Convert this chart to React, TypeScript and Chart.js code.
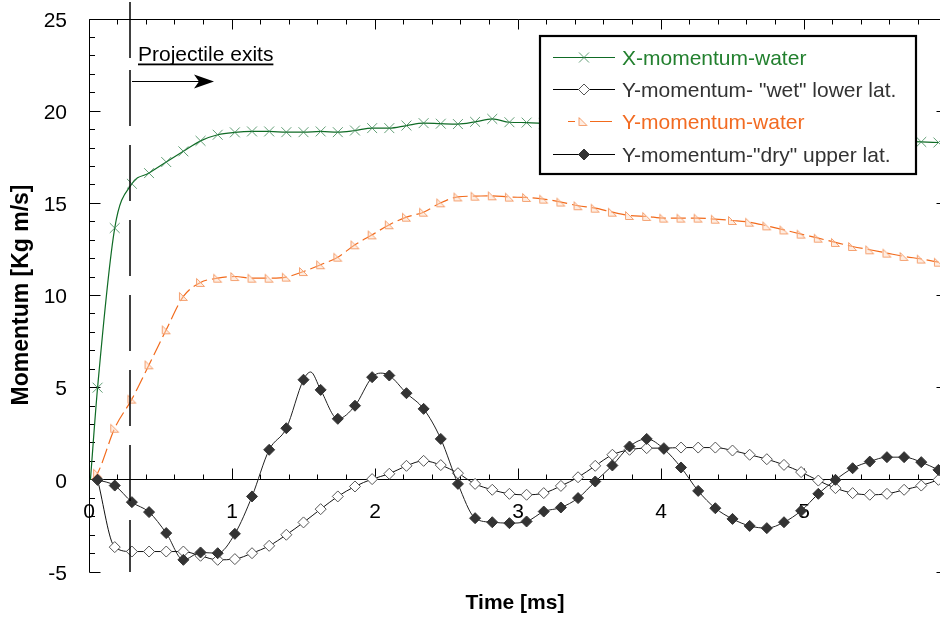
import React, { useEffect, useRef } from "react";
import { Chart, registerables } from "chart.js";
Chart.register(...registerables);

// ---------------- data ----------------
const times = [
  0.06, 0.18, 0.3, 0.42, 0.54, 0.66, 0.78, 0.9, 1.02, 1.14,
  1.26, 1.38, 1.5, 1.62, 1.74, 1.86, 1.98, 2.1, 2.22, 2.34,
  2.46, 2.58, 2.7, 2.82, 2.94, 3.06, 3.18, 3.3, 3.42, 3.54,
  3.66, 3.78, 3.9, 4.02, 4.14, 4.26, 4.38, 4.5, 4.62, 4.74,
  4.86, 4.98, 5.1, 5.22, 5.34, 5.46, 5.58, 5.7, 5.82, 5.94,
];

const xMomentumWater = [
  5.0, 13.66, 16.06, 16.64, 17.24, 17.82, 18.39, 18.72, 18.85, 18.9,
  18.9, 18.86, 18.86, 18.9, 18.86, 18.95, 19.08, 19.08, 19.22, 19.35,
  19.32, 19.3, 19.42, 19.58, 19.4, 19.38, 19.33, 19.28, 19.22, 19.16,
  19.1, 19.04, 18.98, 18.93, 18.88, 18.84, 18.8, 18.76, 18.72, 18.68,
  18.64, 18.6, 18.56, 18.52, 18.48, 18.44, 18.4, 18.37, 18.33, 18.3,
];

const yMomentumWetLower = [
  0, -3.65, -3.89, -3.89, -3.89, -3.89, -4.12, -4.34, -4.3, -3.98,
  -3.58, -2.98, -2.31, -1.59, -0.9, -0.36, 0.04, 0.33, 0.76, 1.03,
  0.8, 0.36, -0.22, -0.54, -0.76, -0.81, -0.72, -0.33, 0.14, 0.76,
  1.36, 1.63, 1.72, 1.72, 1.75, 1.75, 1.75, 1.59, 1.36, 1.12,
  0.81, 0.42, -0.04, -0.45, -0.72, -0.81, -0.76, -0.54, -0.31, 0.0,
];

const yMomentumWater = [
  0.36, 2.8, 4.38, 6.24, 8.14, 9.95, 10.71, 10.94, 11.03, 10.94,
  10.94, 11.0, 11.3, 11.67, 12.08, 12.75, 13.29, 13.84, 14.25, 14.52,
  15.03, 15.35, 15.39, 15.41, 15.34, 15.32, 15.23, 15.07, 14.87, 14.74,
  14.52, 14.34, 14.29, 14.2, 14.2, 14.2, 14.14, 14.07, 13.98, 13.78,
  13.56, 13.33, 13.11, 12.88, 12.66, 12.48, 12.3, 12.12, 11.98, 11.81,
];

const yMomentumDryUpper = [
  0, -0.31, -1.21, -1.75, -2.89, -4.34, -3.94, -3.98, -2.93, -0.9,
  1.63, 2.8, 5.43, 4.88, 3.31, 4.02, 5.57, 5.66, 4.7, 3.85,
  2.22, -0.22, -2.08, -2.3, -2.35, -2.26, -1.72, -1.5, -0.99, -0.09,
  0.78, 1.81, 2.22, 1.68, 0.67, -0.6, -1.54, -2.12, -2.5, -2.62,
  -2.3, -1.68, -0.76, 0, 0.63, 0.99, 1.23, 1.23, 0.96, 0.54,
];

// unmarked samples of the underlying curves (line only)
const xWaterStart = { t: 0.01, v: 0 };
const yWaterStart = { t: 0.02, v: 0 };
const dryPeakTimes = [1.55, 2.04];
const dryPeakValues = [5.85, 5.79];

const seriesNames = [
  "X-momentum-water",
  "Y-momentum- \"wet\" lower lat.",
  "Y-momentum-water",
  "Y-momentum-\"dry\" upper lat.",
];

const yTickLabels = [-5, 0, 5, 10, 15, 20, 25];
const xTickLabels = [0, 1, 2, 3, 4, 5];
const xMin = 0, xMax = 6, yMin = -5, yMax = 25;
const exitTime = 0.285;
const exitLabel = "Projectile exits";
const xTitle = "Time [ms]";
const yTitle = "Momentum [Kg m/s]";

// ---------------- styles ----------------
const FONT = '"Liberation Sans", Arial, Helvetica, sans-serif';
const GREEN_LINE = "#0f6b25";
const GREEN_MARK = "rgba(60,135,85,0.8)";
const GREEN_TEXT = "#23802f";
const ORANGE_LINE = "#f26a1b";
const ORANGE_TEXT = "#f26b22";
const DARK_TEXT = "#333333";

function makeTriangle(): HTMLCanvasElement {
  const c = document.createElement("canvas");
  c.width = 11;
  c.height = 11;
  const g = c.getContext("2d")!;
  g.beginPath();
  g.moveTo(1.5, 1.5);
  g.lineTo(1.5, 9.5);
  g.lineTo(9.5, 9.5);
  g.closePath();
  g.fillStyle = "rgba(253,215,190,0.45)";
  g.fill();
  g.strokeStyle = "#f5a272";
  g.lineWidth = 1;
  g.stroke();
  return c;
}

function drawCross(ctx: CanvasRenderingContext2D, x: number, y: number, r: number, color: string) {
  ctx.strokeStyle = color;
  ctx.lineWidth = 1;
  ctx.beginPath();
  ctx.moveTo(x - r, y - r);
  ctx.lineTo(x + r, y + r);
  ctx.moveTo(x + r, y - r);
  ctx.lineTo(x - r, y + r);
  ctx.stroke();
}

function drawDiamond(ctx: CanvasRenderingContext2D, x: number, y: number, r: number, fill: string, stroke: string) {
  ctx.beginPath();
  ctx.moveTo(x, y - r);
  ctx.lineTo(x + r, y);
  ctx.lineTo(x, y + r);
  ctx.lineTo(x - r, y);
  ctx.closePath();
  ctx.fillStyle = fill;
  ctx.fill();
  ctx.strokeStyle = stroke;
  ctx.lineWidth = 1;
  ctx.stroke();
}

export default function App() {
  const ref = useRef<HTMLCanvasElement>(null);

  useEffect(() => {
    const tri = makeTriangle();

    const marked = (vals: number[]) => times.map((t, i) => ({ x: t, y: vals[i], m: true }));
    const greenData = [{ x: xWaterStart.t, y: xWaterStart.v, m: false }, ...marked(xMomentumWater)];
    const orangeData = [{ x: yWaterStart.t, y: yWaterStart.v, m: false }, ...marked(yMomentumWater)];
    const wetData = marked(yMomentumWetLower);
    const dryData = [
      ...marked(yMomentumDryUpper),
      ...dryPeakTimes.map((t, i) => ({ x: t, y: dryPeakValues[i], m: false })),
    ].sort((a, b) => a.x - b.x);

    const rad = (r: number) => (c: any) => (c.raw && c.raw.m === false ? 0 : r);

    const framePlugin = {
      id: "frame",
      beforeDatasetsDraw(chart: any) {
        const { ctx, chartArea } = chart;
        const xs = chart.scales.x;
        const ys = chart.scales.y;
        const L = Math.floor(chartArea.left) + 0.5;
        const R = Math.floor(chartArea.right) + 0.5;
        const T = Math.floor(chartArea.top) + 0.5;
        const B = Math.floor(chartArea.bottom) + 0.5;
        const Z = Math.floor(ys.getPixelForValue(0)) + 0.5;
        ctx.save();
        ctx.strokeStyle = "#000";
        ctx.lineWidth = 1;
        ctx.beginPath();
        ctx.moveTo(L, T); ctx.lineTo(L, B);
        ctx.moveTo(L, T); ctx.lineTo(R, T);
        ctx.moveTo(R, T); ctx.lineTo(R, B);
        ctx.moveTo(L, Z); ctx.lineTo(R, Z);
        for (let v = yMin; v <= yMax; v += 1) {
          const py = Math.floor(ys.getPixelForValue(v)) + 0.5;
          const major = v % 5 === 0;
          ctx.moveTo(L, py); ctx.lineTo(L + (major ? 11 : 5.5), py);
          if (major) { ctx.moveTo(R, py); ctx.lineTo(R - 11, py); }
        }
        for (let k = 0; k <= 30; k++) {
          const t = xMin + k * 0.2;
          const px = Math.floor(xs.getPixelForValue(t)) + 0.5;
          const major = k % 5 === 0;
          ctx.moveTo(px, T); ctx.lineTo(px, T + (major ? 10 : 5));
          ctx.moveTo(px, Z); ctx.lineTo(px, Z - (major ? 11 : 5));
        }
        ctx.stroke();

        ctx.fillStyle = "#000";
        ctx.font = `21px ${FONT}`;
        ctx.textAlign = "right";
        ctx.textBaseline = "middle";
        for (const v of yTickLabels) {
          ctx.fillText(String(v), 67, ys.getPixelForValue(v) + 2);
        }
        ctx.textAlign = "center";
        for (const v of xTickLabels) {
          ctx.fillText(String(v), xs.getPixelForValue(v), Z + 33);
        }

        ctx.font = `bold 21px ${FONT}`;
        ctx.textBaseline = "alphabetic";
        ctx.fillText(xTitle, 515, 609);
        ctx.save();
        ctx.translate(28, 295);
        ctx.rotate(-Math.PI / 2);
        ctx.font = `bold 23px ${FONT}`;
        ctx.fillText(yTitle, 0, 0);
        ctx.restore();
        ctx.restore();
      },
      afterDatasetsDraw(chart: any) {
        const { ctx } = chart;
        const xs = chart.scales.x;
        const ys = chart.scales.y;
        ctx.save();
        const ex = Math.round(xs.getPixelForValue(exitTime));
        const yBot = ys.getPixelForValue(yMin);
        ctx.strokeStyle = "#000";
        ctx.lineWidth = 1.5;
        ctx.beginPath();
        ctx.moveTo(ex, 2); ctx.lineTo(ex, 58);
        ctx.stroke();
        ctx.setLineDash([56, 19]);
        ctx.beginPath();
        ctx.moveTo(ex, 70); ctx.lineTo(ex, yBot);
        ctx.stroke();
        ctx.setLineDash([]);

        ctx.fillStyle = "#000";
        ctx.font = `21px ${FONT}`;
        ctx.textAlign = "left";
        ctx.textBaseline = "alphabetic";
        ctx.fillText(exitLabel, 138, 61);
        const w = ctx.measureText(exitLabel).width;
        ctx.fillRect(138, 63.5, w, 1.8);

        ctx.lineWidth = 1;
        ctx.beginPath();
        ctx.moveTo(132, 81.5); ctx.lineTo(200, 81.5);
        ctx.stroke();
        ctx.beginPath();
        ctx.moveTo(214, 81.5);
        ctx.lineTo(194, 74.5);
        ctx.lineTo(199, 81.5);
        ctx.lineTo(194, 88.5);
        ctx.closePath();
        ctx.fill();

        ctx.fillStyle = "#fff";
        ctx.fillRect(540, 36, 376, 138);
        ctx.strokeStyle = "#000";
        ctx.lineWidth = 2.2;
        ctx.strokeRect(540, 36, 376, 138);

        const rows = [65, 97, 129, 162];
        const colors = [GREEN_TEXT, DARK_TEXT, ORANGE_TEXT, DARK_TEXT];
        ctx.font = `21px ${FONT}`;
        rows.forEach((base, i) => {
          const cy = base - 7.5;
          ctx.lineWidth = 1;
          if (i === 0) {
            ctx.strokeStyle = GREEN_LINE;
            ctx.beginPath(); ctx.moveTo(553, cy); ctx.lineTo(615, cy); ctx.stroke();
            drawCross(ctx, 584, cy, 5, GREEN_MARK);
          } else if (i === 1) {
            ctx.strokeStyle = "#000";
            ctx.beginPath(); ctx.moveTo(553, cy); ctx.lineTo(615, cy); ctx.stroke();
            drawDiamond(ctx, 584, cy, 5.5, "#fff", "#555");
          } else if (i === 2) {
            ctx.strokeStyle = ORANGE_LINE;
            ctx.beginPath();
            ctx.moveTo(568, cy); ctx.lineTo(575, cy);
            ctx.moveTo(590, cy); ctx.lineTo(612, cy);
            ctx.stroke();
            ctx.drawImage(tri, 583 - 5.5, cy - 5.5);
          } else {
            ctx.strokeStyle = "#000";
            ctx.beginPath(); ctx.moveTo(553, cy); ctx.lineTo(615, cy); ctx.stroke();
            drawDiamond(ctx, 584, cy, 5.5, "#333", "#333");
          }
          ctx.fillStyle = colors[i];
          ctx.fillText(seriesNames[i], 622, base);
        });
        ctx.restore();
      },
    };

    const chart = new Chart(ref.current!, {
      type: "line",
      data: {
        datasets: [
          {
            label: seriesNames[3],
            data: dryData as any,
            borderColor: "#222",
            borderWidth: 1,
            pointStyle: "rectRot",
            pointRadius: rad(5.5) as any,
            pointBackgroundColor: "#333",
            pointBorderColor: "#333",
            pointBorderWidth: 1,
            cubicInterpolationMode: "monotone",
            tension: 0.4,
            order: 0,
          },
          {
            label: seriesNames[1],
            data: wetData as any,
            borderColor: "#111",
            borderWidth: 1,
            pointStyle: "rectRot",
            pointRadius: 5.5,
            pointBackgroundColor: "#fff",
            pointBorderColor: "#555",
            pointBorderWidth: 1,
            cubicInterpolationMode: "monotone",
            tension: 0.4,
            order: 1,
          },
          {
            label: seriesNames[2],
            data: orangeData as any,
            borderColor: ORANGE_LINE,
            borderWidth: 1.2,
            borderDash: [15, 5],
            pointStyle: tri as any,
            pointRadius: rad(5) as any,
            cubicInterpolationMode: "monotone",
            tension: 0.4,
            order: 2,
          },
          {
            label: seriesNames[0],
            data: greenData as any,
            borderColor: GREEN_LINE,
            borderWidth: 1.2,
            pointStyle: "crossRot",
            pointRadius: rad(7) as any,
            pointBorderColor: GREEN_MARK,
            pointBorderWidth: 1,
            cubicInterpolationMode: "monotone",
            tension: 0.4,
            order: 3,
          },
        ],
      },
      options: {
        responsive: false,
        devicePixelRatio: 1,
        animation: false,
        events: [],
        layout: { padding: { left: 89, right: 13, top: 19, bottom: 45 } },
        scales: {
          x: { type: "linear", min: xMin, max: xMax, display: false },
          y: { type: "linear", min: yMin, max: yMax, display: false },
        },
        plugins: { legend: { display: false }, tooltip: { enabled: false } },
      },
      plugins: [framePlugin as any],
    });
    return () => chart.destroy();
  }, []);

  return (
    <div style={{ position: "fixed", left: 0, top: 0, width: 960, height: 617, background: "#fff" }}>
      <canvas ref={ref} width={960} height={617} style={{ width: 960, height: 617, display: "block" }} />
    </div>
  );
}
